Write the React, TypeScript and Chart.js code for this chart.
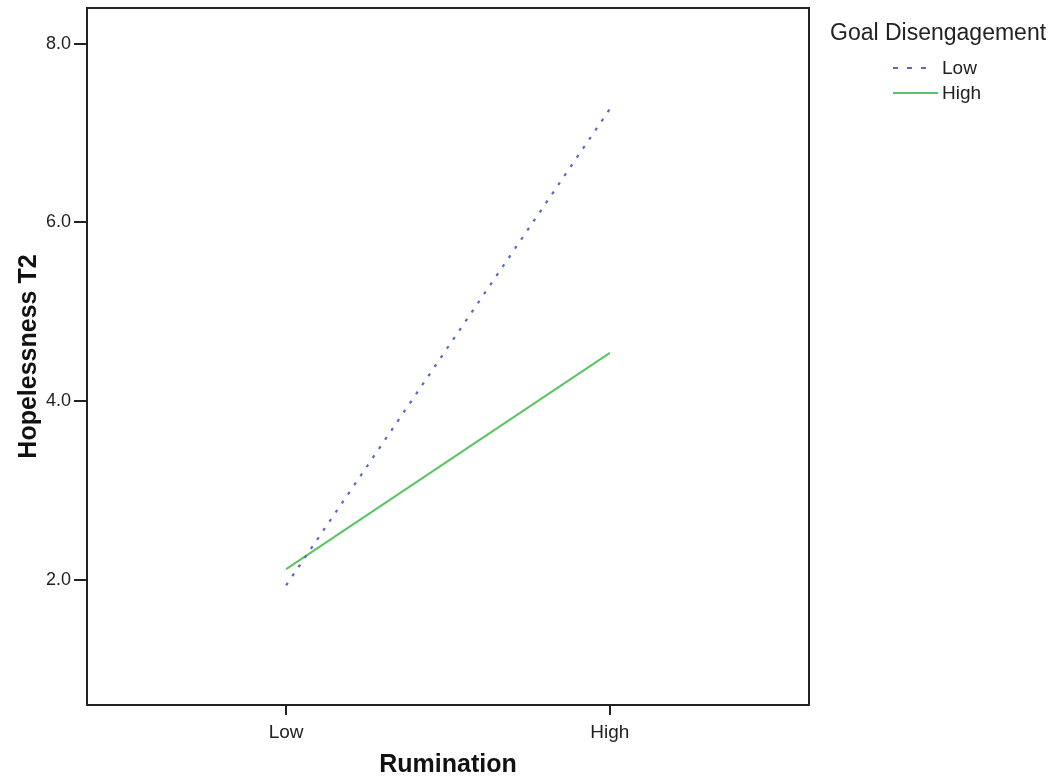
import React, { useEffect, useRef } from "react";
import { Chart, registerables } from "chart.js";

Chart.register(...registerables);

const categories = ["Low", "High"];
const lowGoalDisengagement = [1.94, 7.27];
const highGoalDisengagement = [2.12, 4.54];
const yTicks = [2, 4, 6, 8];
const legendTitle = "Goal Disengagement";
const seriesNames = ["Low", "High"];

const BLUE = "#5868c4";
const GREEN = "#5ac463";
const FONT = "'Liberation Sans', Arial, sans-serif";

export default function App() {
  const ref = useRef<HTMLCanvasElement>(null);
  useEffect(() => {
    if (!ref.current) return;
    const boxPlugin = {
      id: "box",
      afterDraw(chart: any) {
        const { ctx, chartArea } = chart;
        ctx.save();
        ctx.strokeStyle = "#222";
        ctx.lineWidth = 2;
        ctx.strokeRect(chartArea.left, chartArea.top, chartArea.right - chartArea.left, chartArea.bottom - chartArea.top);
        // legend
        ctx.fillStyle = "#222";
        ctx.textBaseline = "middle";
        ctx.font = `23px ${FONT}`;
        ctx.textAlign = "left";
        ctx.fillText(legendTitle, 830, 34);
        ctx.font = `19px ${FONT}`;
        const items = [
          { y: 68, color: BLUE, dash: [5, 9], name: seriesNames[0], end: 935 },
          { y: 93, color: GREEN, dash: [], name: seriesNames[1], end: 938 },
        ];
        items.forEach((it) => {
          ctx.strokeStyle = it.color;
          ctx.lineWidth = 2;
          ctx.setLineDash(it.dash);
          ctx.beginPath();
          ctx.moveTo(893, it.y);
          ctx.lineTo(it.end, it.y);
          ctx.stroke();
          ctx.setLineDash([]);
          ctx.fillStyle = "#222";
          ctx.fillText(it.name, 942, it.y + 1);
        });
        ctx.restore();
      },
    };
    const chart = new Chart(ref.current, {
      type: "line",
      data: {
        datasets: [
          {
            label: seriesNames[0],
            data: categories.map((_, i) => ({ x: i, y: lowGoalDisengagement[i] })),
            borderColor: BLUE,
            borderWidth: 2.2,
            borderDash: [3, 8],
            pointRadius: 0,
            fill: false,
          },
          {
            label: seriesNames[1],
            data: categories.map((_, i) => ({ x: i, y: highGoalDisengagement[i] })),
            borderColor: GREEN,
            borderWidth: 2,
            pointRadius: 0,
            fill: false,
          },
        ],
      },
      options: {
        animation: false,
        responsive: false,
        layout: { padding: { top: 8, right: 252, left: 0, bottom: 0 } },
        plugins: { legend: { display: false }, tooltip: { enabled: false } },
        scales: {
          x: {
            type: "linear",
            min: -0.615,
            max: 1.615,
            afterBuildTicks: (s: any) => {
              s.ticks = categories.map((_, i) => ({ value: i }));
            },
            afterFit: (s: any) => {
              s.height = 75;
              s.paddingLeft = 0;
              s.paddingRight = 0;
            },
            ticks: {
              callback: (v: any) => categories[v] ?? "",
              color: "#222",
              font: { family: FONT, size: 19 },
              padding: 6,
              maxRotation: 0,
            },
            grid: { drawOnChartArea: false, drawTicks: true, tickLength: 10, color: "#222", lineWidth: 2 },
            border: { display: false },
            title: {
              display: true,
              text: "Rumination",
              color: "#111",
              font: { family: FONT, size: 25, weight: "bold" },
              padding: { top: 2, bottom: 0 },
            },
          },
          y: {
            type: "linear",
            min: 0.6,
            max: 8.4,
            afterBuildTicks: (s: any) => {
              s.ticks = yTicks.map((v) => ({ value: v }));
            },
            afterFit: (s: any) => {
              s.width = 87;
              s.paddingTop = 0;
              s.paddingBottom = 0;
            },
            ticks: {
              callback: (v: any) => Number(v).toFixed(1),
              color: "#222",
              font: { family: FONT, size: 18 },
              padding: 3,
            },
            grid: { drawOnChartArea: false, drawTicks: true, tickLength: 13, color: "#222", lineWidth: 2 },
            border: { display: false },
            title: {
              display: true,
              text: "Hopelessness T2",
              color: "#111",
              font: { family: FONT, size: 25, weight: "bold" },
              padding: { top: 14, bottom: 0 },
            },
          },
        },
      },
      plugins: [boxPlugin],
    } as any);
    return () => chart.destroy();
  }, []);
  return (
    <div style={{ position: "fixed", left: 0, top: 0, width: 1061, height: 780, background: "#fff" }}>
      <canvas ref={ref} width={1061} height={780} style={{ display: "block" }} />
    </div>
  );
}
